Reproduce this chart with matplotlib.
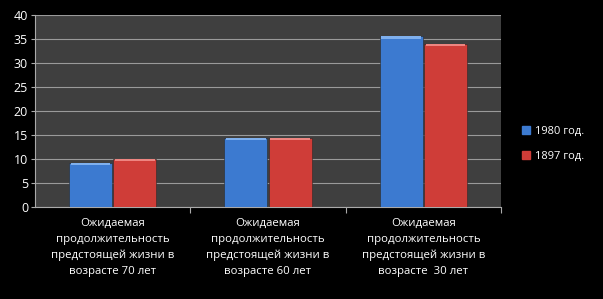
import matplotlib
matplotlib.use("Agg")
import matplotlib.pyplot as plt
import numpy as np

categories = ["Ожидаемая\nпродолжительность\nпредстоящей жизни в\nвозрасте 70 лет",
              "Ожидаемая\nпродолжительность\nпредстоящей жизни в\nвозрасте 60 лет",
              "Ожидаемая\nпродолжительность\nпредстоящей жизни в\nвозрасте  30 лет"]
series_names = ["1980 год.", "1897 год."]
values_1980 = [9.2, 14.4, 35.6]
values_1897 = [10.0, 14.4, 34.0]
yticks = [0, 5, 10, 15, 20, 25, 30, 35, 40]

plt.rcParams['font.family'] = ['Open Sans', 'DejaVu Sans']

fig = plt.figure(figsize=(6.03, 2.99), dpi=100, facecolor="black")
ax = fig.add_axes([35/603, 1-207/299, (501-35)/603, (207-15)/299])
ax.set_facecolor("#3f3f3f")

x = np.arange(len(categories))
w = 0.285
colors = ["#3c7ad0", "#cf3d38"]
tops = ["#7fb0ee", "#ee8580"]
for i, (vals, c, t, name) in enumerate(zip([values_1980, values_1897], colors, tops, series_names)):
    pos = x + (i - 0.5) * w
    ax.bar(pos, vals, width=w * 0.97, color=c, edgecolor="#2a2a2a", linewidth=0.4, zorder=3, label=name)
    ax.bar(pos, [0.5] * 3, bottom=np.array(vals) - 0.5, width=w * 0.9, color=t, linewidth=0, zorder=4)

ax.set_xlim(-0.5, 2.5)
ax.set_ylim(0, 40)
ax.set_yticks(yticks)
ax.yaxis.grid(True, color="#9a9a9a", linewidth=0.8, zorder=0)
ax.set_axisbelow(True)
ax.tick_params(axis="y", colors="white", labelsize=9, length=3, color="#aaaaaa", pad=2)
ax.set_xticks([0.5, 1.5, 2.5], minor=False)
ax.set_xticklabels([])
ax.tick_params(axis="x", length=4, color="#aaaaaa", direction="out")
for xi, lab in zip(x, categories):
    ax.text(xi, -2.3, lab, ha="center", va="top", color="white", fontsize=8.2, linespacing=1.6,
            transform=ax.transData)
for s in ["top", "right"]:
    ax.spines[s].set_visible(False)
ax.spines["left"].set_color("#aaaaaa")
ax.spines["bottom"].set_color("#aaaaaa")

leg = fig.legend(handles=[plt.Rectangle((0, 0), 1, 1, color=c) for c in colors], labels=series_names,
                 loc="center left", bbox_to_anchor=(512/603, 1-144/299), frameon=False,
                 fontsize=8, labelcolor="white", handlelength=0.7, handleheight=0.7,
                 labelspacing=1.3, handletextpad=0.5)

fig.savefig("out.png", dpi=100, facecolor="black")
